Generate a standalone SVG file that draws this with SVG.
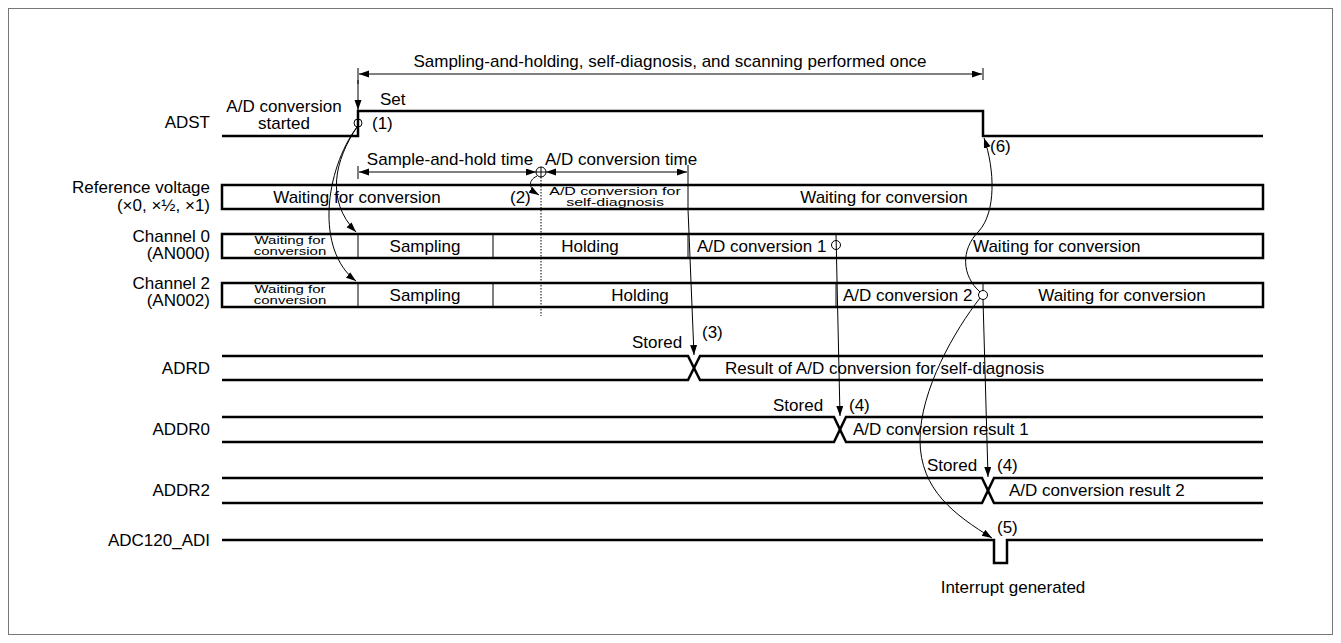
<svg xmlns="http://www.w3.org/2000/svg" width="1341" height="643" viewBox="0 0 1341 643">
<defs>
<marker id="ah" markerUnits="userSpaceOnUse" markerWidth="11" markerHeight="8" refX="10" refY="3.5" orient="auto-start-reverse">
<path d="M0,0 L10,3.5 L0,7 z" fill="#000"/>
</marker>
</defs>
<style>
text{font-family:"Liberation Sans",Arial,sans-serif;font-size:17px;fill:#000}
.lbl{text-anchor:end}
.mid{text-anchor:middle}
.sm{font-size:15px}
.sm16{font-size:16px}
.thick{fill:none;stroke:#000;stroke-width:2.5}
.thin{fill:none;stroke:#000;stroke-width:1}
.dot{fill:none;stroke:#000;stroke-width:1;stroke-dasharray:1.5 1.5}
.arr{fill:none;stroke:#000;stroke-width:1;marker-end:url(#ah)}
.dim{fill:none;stroke:#000;stroke-width:1;marker-start:url(#ah);marker-end:url(#ah)}
</style>
<rect x="8.5" y="8.5" width="1324" height="626" fill="#fff" stroke="#777" stroke-width="1"/>

<g id="ADST">
<text class="lbl" x="210" y="128">ADST</text>
<path class="thick" d="M222,136 H358 V111 H983 V136 H1263"/>
<text class="mid" x="284" y="112">A/D conversion</text>
<text class="mid" x="284" y="129">started</text>
<text x="380" y="105">Set</text>
<circle class="thin" cx="358" cy="123" r="4"/>
<text x="372" y="129">(1)</text>
<text x="990" y="152">(6)</text>
</g>

<g id="RefVoltage">
<text class="lbl" x="210" y="193">Reference voltage</text>
<text class="lbl" x="210" y="211">(×0, ×½, ×1)</text>
<rect class="thick" x="222" y="185" width="1041" height="24"/>
<line class="thin" x1="688" y1="185" x2="688" y2="209"/>
<text class="mid" x="357" y="203">Waiting for conversion</text>
<text x="510" y="203">(2)</text>
<g transform="translate(615,195) scale(1,0.7)"><text class="mid sm16" x="0" y="0">A/D conversion for</text></g>
<g transform="translate(615,205.5) scale(1,0.7)"><text class="mid sm16" x="0" y="0">self-diagnosis</text></g>
<text class="mid" x="884" y="203">Waiting for conversion</text>
</g>

<g id="Channel0">
<text class="lbl" x="210" y="242">Channel 0</text>
<text class="lbl" x="210" y="259">(AN000)</text>
<rect class="thick" x="222" y="234" width="1041" height="24"/>
<line class="thin" x1="358" y1="234" x2="358" y2="258"/>
<line class="thin" x1="493" y1="234" x2="493" y2="258"/>
<line class="thin" x1="688" y1="234" x2="688" y2="258"/>
<g transform="translate(290,244) scale(1,0.75)"><text class="mid sm" x="0" y="0">Waiting for</text></g>
<g transform="translate(290,255) scale(1,0.75)"><text class="mid sm" x="0" y="0">conversion</text></g>
<text class="mid" x="425" y="252">Sampling</text>
<text class="mid" x="590" y="252">Holding</text>
<text x="697" y="252">A/D conversion 1</text>
<circle class="thin" cx="836" cy="245" r="4.5"/>
<text x="973" y="252">Waiting for conversion</text>
</g>

<g id="Channel2">
<text class="lbl" x="210" y="289">Channel 2</text>
<text class="lbl" x="210" y="306">(AN002)</text>
<rect class="thick" x="222" y="283" width="1041" height="24"/>
<line class="thin" x1="358" y1="283" x2="358" y2="307"/>
<line class="thin" x1="493" y1="283" x2="493" y2="307"/>
<line class="thin" x1="836" y1="283" x2="836" y2="307"/>
<line class="thin" x1="983" y1="283" x2="983" y2="291"/>
<g transform="translate(290,293) scale(1,0.75)"><text class="mid sm" x="0" y="0">Waiting for</text></g>
<g transform="translate(290,304) scale(1,0.75)"><text class="mid sm" x="0" y="0">conversion</text></g>
<text class="mid" x="425" y="301">Sampling</text>
<text class="mid" x="640" y="301">Holding</text>
<text x="843" y="301">A/D conversion 2</text>
<circle class="thin" cx="983" cy="295" r="4.5"/>
<text class="mid" x="1122" y="301">Waiting for conversion</text>
</g>

<g id="ADRD">
<text class="lbl" x="210" y="374">ADRD</text>
<path class="thick" d="M222,356 H688 L700,380 H1263"/>
<path class="thick" d="M222,380 H688 L700,356 H1263"/>
<text x="632" y="348">Stored</text>
<text x="702" y="338">(3)</text>
<text x="725" y="374">Result of A/D conversion for self-diagnosis</text>
</g>

<g id="ADDR0">
<text class="lbl" x="210" y="435">ADDR0</text>
<path class="thick" d="M222,417 H834 L846,442 H1263"/>
<path class="thick" d="M222,442 H834 L846,417 H1263"/>
<text x="773" y="411">Stored</text>
<text x="849" y="411">(4)</text>
<text x="853" y="435">A/D conversion result 1</text>
</g>

<g id="ADDR2">
<text class="lbl" x="210" y="496">ADDR2</text>
<path class="thick" d="M222,478 H982 L994,503 H1263"/>
<path class="thick" d="M222,503 H982 L994,478 H1263"/>
<text x="927" y="471">Stored</text>
<text x="997" y="471">(4)</text>
<text x="1009" y="496">A/D conversion result 2</text>
</g>

<g id="ADC120_ADI">
<text class="lbl" x="210" y="546">ADC120_ADI</text>
<path class="thick" d="M222,540 H994 V563 H1007 V540 H1263"/>
<text x="997" y="533">(5)</text>
<text class="mid" x="1013" y="593">Interrupt generated</text>
</g>

<g id="connectors">
<line class="dim" x1="359" y1="74" x2="982" y2="74"/>
<line class="thin" x1="983" y1="68" x2="983" y2="80"/>
<text class="mid" x="670" y="67">Sampling-and-holding, self-diagnosis, and scanning performed once</text>
<line class="thin" x1="358" y1="68" x2="358" y2="84"/>
<line class="arr" x1="358" y1="80" x2="358" y2="110"/>
<line class="thin" x1="358" y1="166" x2="358" y2="179"/>
<line class="dim" x1="359" y1="172" x2="536" y2="172"/>
<line class="dim" x1="546" y1="172" x2="687" y2="172"/>
<line class="thin" x1="688" y1="165" x2="688" y2="185"/>
<circle class="thin" cx="541" cy="172" r="5" fill="none"/>
<line class="thin" x1="536" y1="172" x2="546" y2="172"/>
<line class="thin" x1="541" y1="167" x2="541" y2="177"/>
<text class="mid" x="450" y="165">Sample-and-hold time</text>
<text x="545" y="165">A/D conversion time</text>
<line class="dot" x1="541" y1="177" x2="541" y2="316"/>
<path class="arr" d="M537,176 C527,181 529,189 539,195"/>
<path class="arr" d="M357,127 C335,160 325,200 356,232"/>
<path class="arr" d="M357,127 C325,170 315,250 356,281"/>
<path class="arr" d="M688,209 L694,355"/>
<path class="arr" d="M836,234 L840,416"/>
<path class="arr" d="M983,299.5 L988,477"/>
<path class="arr" d="M980,292 C962,276 960,250 979,231 C996,212 995,170 984,138"/>
<path class="arr" d="M980,298 C955,330 920,390 920,440 C920,490 955,515 992,538"/>
</g>
</svg>
